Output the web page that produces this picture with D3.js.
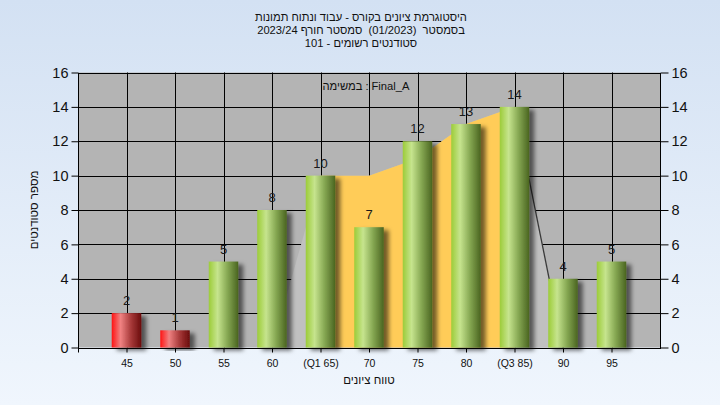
<!DOCTYPE html>
<html>
<head>
<meta charset="utf-8">
<script src="https://cdn.jsdelivr.net/npm/d3@7"></script>
<style>
html,body{margin:0;padding:0;width:720px;height:405px;overflow:hidden;}
svg{display:block;}
text{white-space:pre;}
</style>
</head>
<body>
<script>
const categories = ["45","50","55","60","(Q1 65)","70","75","80","(Q3 85)","90","95"];
const counts = [2,1,5,8,10,7,12,13,14,4,5];
const failingCategories = ["45","50"];
const rangeCategories = ["(Q1 65)","70","75","80","(Q3 85)"];
const rangeValues = [10,10,11,13,14];
const envelopeCategories = ["60","(Q1 65)","70","75","80","(Q3 85)","90"];
const envelopeValues = [0,10,10,11,13,14,0];
const yTicks = [0,2,4,6,8,10,12,14,16];
const titleLines = ["היסטוגרמת ציונים בקורס - עבוד ונתוח תמונות","בסמסטר  (01/2023)  סמסטר חורף 2023/24","סטודנטים רשומים - 101"];
const legendLabel = "במשימה :";
const legendValue = "Final_A";
const xTitle = "טווח ציונים";
const yTitle = "מספר סטודנטים";

(function(){
const W = 720, H = 405;
const pLeft = 78, pRight = 660, pTop = 72.5, pBottom = 347.5;

const svg = d3.select("body").append("svg").attr("width", W).attr("height", H);
const defs = svg.append("defs");

const bg = defs.append("linearGradient").attr("id","bg").attr("x1",0).attr("y1",0).attr("x2",0).attr("y2",1);
bg.append("stop").attr("offset","0%").attr("stop-color","#d3e1f3");
bg.append("stop").attr("offset","100%").attr("stop-color","#f0f6fd");

const gGreen = defs.append("linearGradient").attr("id","gGreen").attr("x1",0).attr("y1",0).attr("x2",1).attr("y2",0);
gGreen.append("stop").attr("offset","0%").attr("stop-color","#9ccc38");
gGreen.append("stop").attr("offset","30%").attr("stop-color","#c6e48e");
gGreen.append("stop").attr("offset","65%").attr("stop-color","#83a550");
gGreen.append("stop").attr("offset","100%").attr("stop-color","#4a6420");

const gRed = defs.append("linearGradient").attr("id","gRed").attr("x1",0).attr("y1",0).attr("x2",1).attr("y2",0);
gRed.append("stop").attr("offset","0%").attr("stop-color","#ff1414");
gRed.append("stop").attr("offset","30%").attr("stop-color","#f08282");
gRed.append("stop").attr("offset","65%").attr("stop-color","#a83a3a");
gRed.append("stop").attr("offset","100%").attr("stop-color","#6a0c0c");

const shadow = defs.append("filter").attr("id","shadow").attr("x","-30%").attr("y","-10%").attr("width","170%").attr("height","130%");
shadow.append("feDropShadow").attr("dx",5).attr("dy",3).attr("stdDeviation",2).attr("flood-color","#000").attr("flood-opacity",0.55);

svg.append("rect").attr("width",W).attr("height",H).attr("fill","url(#bg)");

const x = d3.scalePoint().domain(categories).range([pLeft, pRight]).padding(1);
const y = d3.scaleLinear().domain([0,16]).range([pBottom, pTop]);

svg.append("rect").attr("x",pLeft).attr("y",pTop).attr("width",pRight-pLeft).attr("height",pBottom-pTop).attr("fill","#b4b4b4");

const grid = svg.append("g").attr("stroke","#000").attr("stroke-width",1);
grid.selectAll("line.h").data(yTicks).join("line").attr("class","h")
  .attr("x1",pLeft).attr("x2",pRight)
  .attr("y1",d=>Math.round(y(d))+0.5).attr("y2",d=>Math.round(y(d))+0.5);
grid.selectAll("line.v").data(categories).join("line").attr("class","v")
  .attr("x1",d=>Math.round(x(d))+0.5).attr("x2",d=>Math.round(x(d))+0.5)
  .attr("y1",pTop).attr("y2",pBottom);

const envData = envelopeCategories.map((c,i)=>({c, v:envelopeValues[i]}));
const area = d3.area().x(d=>x(d.c)).y0(y(0)).y1(d=>y(d.v));
svg.append("path").datum(envData).attr("d",area).attr("fill","#c0c0c0");

const rangeData = rangeCategories.map((c,i)=>({c, v:rangeValues[i]}));
svg.append("path").datum(rangeData).attr("d",area).attr("fill","#ffcc58");

const tail = envData.slice(envData.length-2);
svg.append("path").datum(tail).attr("d",d3.line().x(d=>x(d.c)).y(d=>y(d.v)))
  .attr("fill","none").attr("stroke","#3a3a3a").attr("stroke-width",1.3);

const barW = 29.5;
const bars = categories.map((c,i)=>({c, v:counts[i]}));
svg.append("g").selectAll("rect").data(bars).join("rect")
  .attr("x",d=>x(d.c)-barW/2).attr("width",barW)
  .attr("y",d=>y(d.v)).attr("height",d=>y(0)-y(d.v))
  .attr("fill",d=>failingCategories.includes(d.c)?"url(#gRed)":"url(#gGreen)")
  .attr("filter","url(#shadow)");

svg.append("rect").attr("x",pLeft+0.5).attr("y",Math.round(pTop)+0.5).attr("width",pRight-pLeft).attr("height",Math.round(pBottom)-Math.round(pTop))
  .attr("fill","none").attr("stroke","#000");

svg.append("g").selectAll("text").data(bars).join("text")
  .attr("x",d=>x(d.c)).attr("y",d=>y(d.v)-8)
  .attr("text-anchor","middle")
  .attr("font-family","'Liberation Sans Narrow','Liberation Sans',Arial,sans-serif")
  .attr("font-size",13).attr("fill","#1a1a1a")
  .text(d=>d.v);

const fontAxis = "'Liberation Sans Narrow','Liberation Sans',Arial,sans-serif";
const yl = svg.append("g").attr("transform",`translate(${pLeft+0.5},0)`)
  .call(d3.axisLeft(y).tickValues(yTicks).tickSize(7).tickPadding(3).tickFormat(d3.format("d")));
const yr = svg.append("g").attr("transform",`translate(${pRight+0.5},0)`)
  .call(d3.axisRight(y).tickValues(yTicks).tickSize(8).tickPadding(3).tickFormat(d3.format("d")));
[yl,yr].forEach(g=>{
  g.select(".domain").remove();
  g.selectAll("line").attr("stroke","#000");
  g.selectAll("text").attr("font-family",fontAxis).attr("font-size",14.5).attr("fill","#111");
});
const xa = svg.append("g").attr("transform",`translate(0,${Math.round(pBottom)+0.5})`)
  .call(d3.axisBottom(x).tickSize(4).tickPadding(7));
xa.select(".domain").remove();
xa.selectAll("line").attr("stroke","#000");
xa.selectAll("text").attr("font-family","'Liberation Sans',Arial,sans-serif").attr("font-size",10.5).attr("fill","#111");
svg.append("line").attr("x1",pLeft+0.5).attr("x2",pLeft+0.5).attr("y1",pBottom).attr("y2",pBottom+5).attr("stroke","#000");

svg.append("g").selectAll("text").data(titleLines).join("text")
  .attr("x",361).attr("y",(d,i)=>21+i*13)
  .attr("text-anchor","middle").attr("direction","rtl")
  .attr("font-family","'Liberation Sans',Arial,sans-serif").attr("font-size",11.2).attr("fill","#111")
  .text(d=>d);

svg.append("text").attr("x",368.6).attr("y",90).attr("text-anchor","end")
  .attr("font-family","'Liberation Sans',Arial,sans-serif").attr("font-size",11.2).attr("fill","#111")
  .text(legendLabel);
svg.append("text").attr("x",371.5).attr("y",90)
  .attr("font-family","'Liberation Sans',Arial,sans-serif").attr("font-size",11.2).attr("fill","#111")
  .text(legendValue);

svg.append("text").attr("x",369).attr("y",384).attr("text-anchor","middle").attr("direction","rtl")
  .attr("font-family","'Liberation Sans',Arial,sans-serif").attr("font-size",11.5).attr("fill","#111")
  .text(xTitle);

svg.append("text").attr("transform","translate(38,210) rotate(-90)").attr("text-anchor","middle").attr("direction","rtl")
  .attr("font-family","'Liberation Sans',Arial,sans-serif").attr("font-size",11.5).attr("fill","#111")
  .text(yTitle);
})();
</script>
</body>
</html>
